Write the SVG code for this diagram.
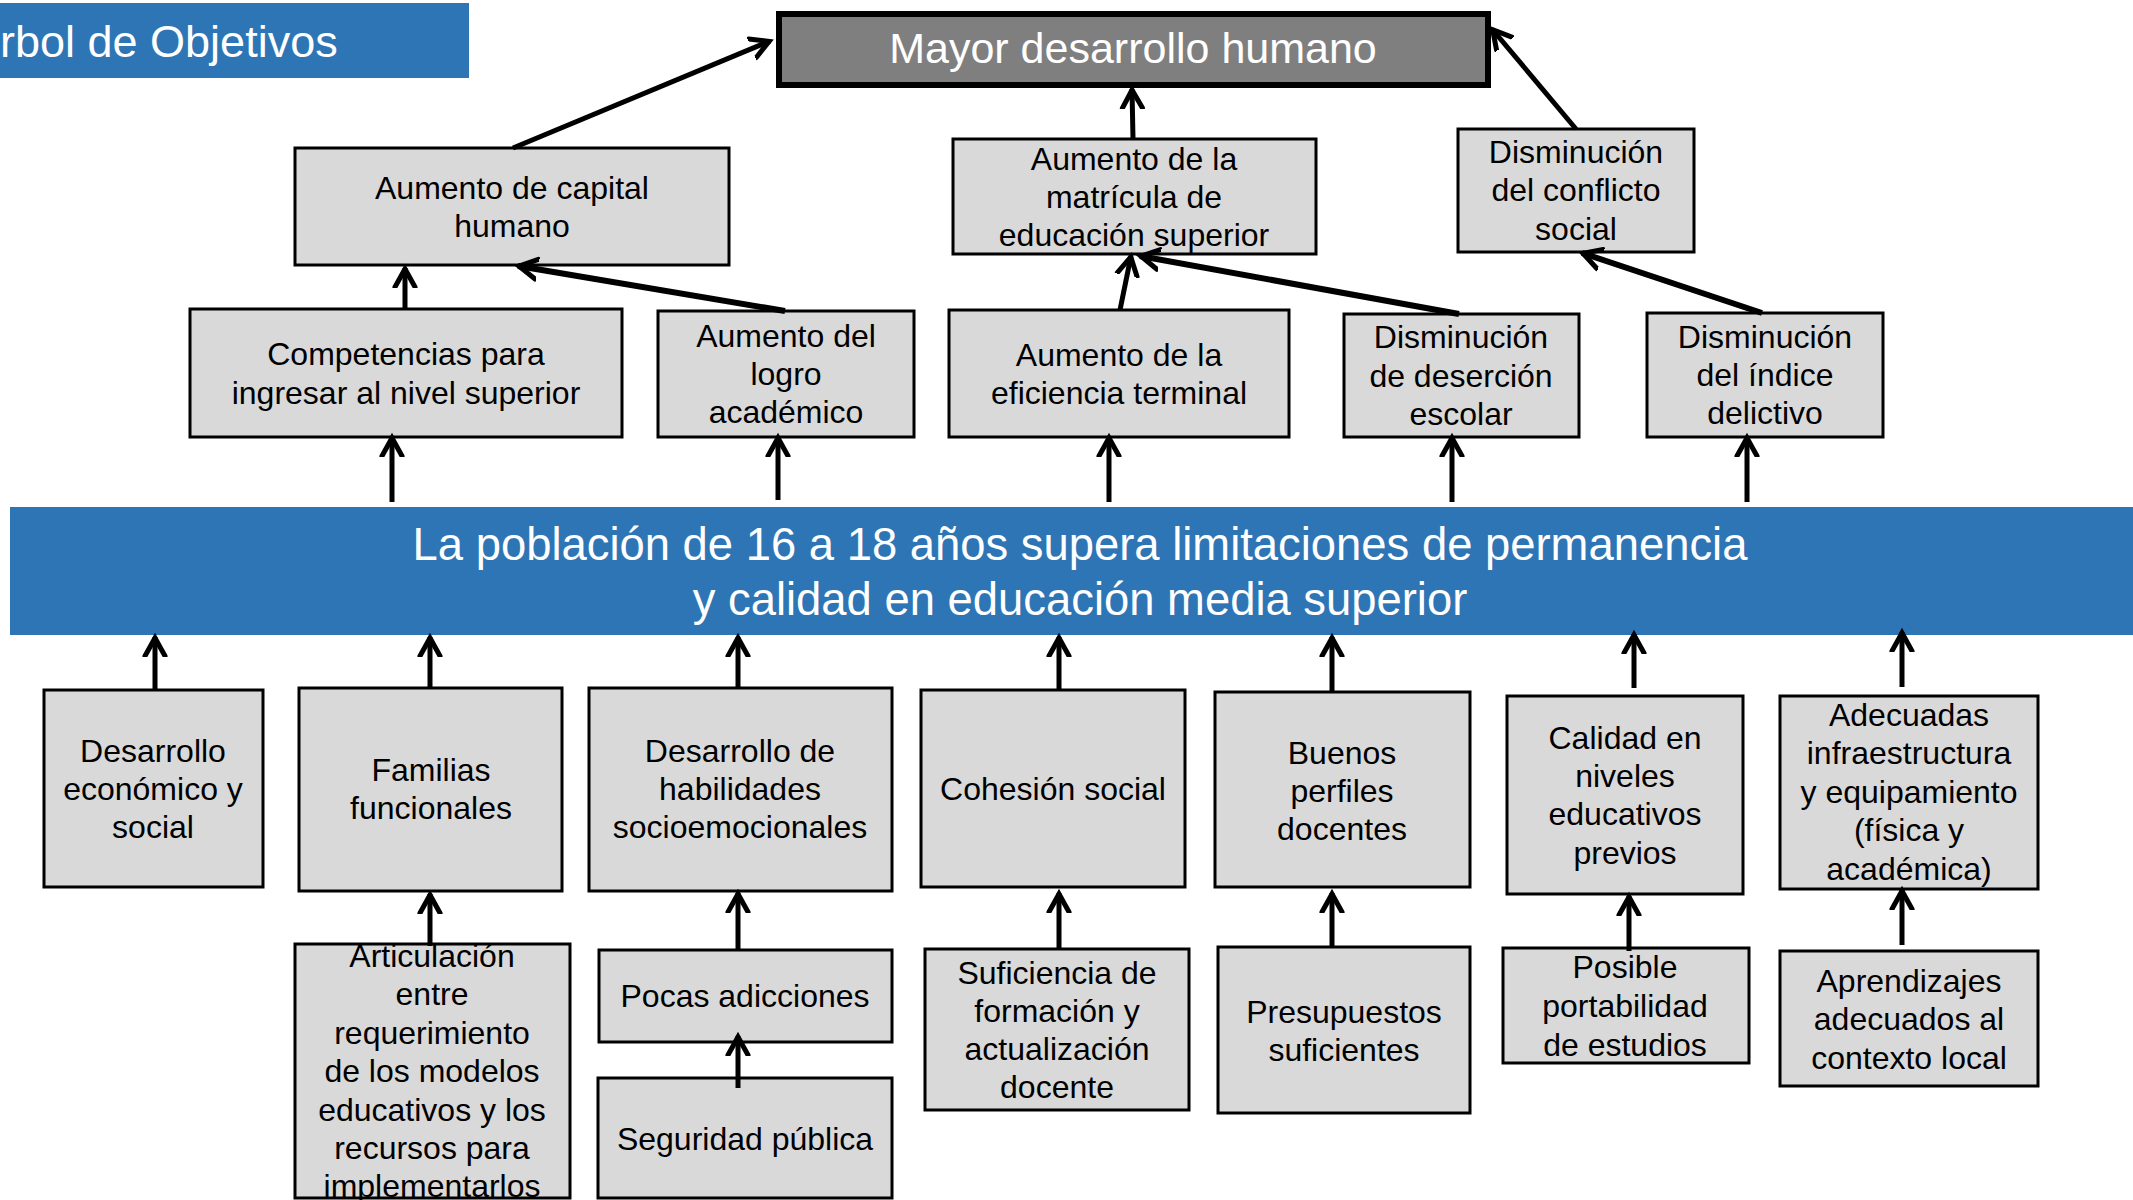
<svg xmlns="http://www.w3.org/2000/svg" width="2133" height="1200" viewBox="0 0 2133 1200">
<style>
.box{fill:#D9D9D9;stroke:#000;stroke-width:3}
.t{font-family:"Liberation Sans",Arial,sans-serif;font-size:32px;fill:#000;text-anchor:middle}
.w{font-family:"Liberation Sans",Arial,sans-serif;fill:#fff;text-anchor:middle}
.c{stroke:#000;stroke-width:5;fill:none;marker-end:url(#ah)}
.c2{stroke:#000;stroke-width:6;fill:none;marker-end:url(#ah)}
</style>
<defs>
<marker id="ah" markerUnits="userSpaceOnUse" markerWidth="40" markerHeight="40" viewBox="-20 -20 40 40" refX="0" refY="0" orient="auto">
<path d="M-19,-10 L-1,0 L-19,10" fill="none" stroke="#000" stroke-width="5" stroke-linecap="round" stroke-linejoin="miter"/>
</marker>
</defs>
<rect x="0" y="3" width="469" height="75" fill="#2E75B6"/>
<text x="0" y="57" font-family="Liberation Sans, Arial, sans-serif" font-size="45" fill="#fff">rbol de Objetivos</text>

<g id="top"><rect x="779" y="14" width="709" height="71" fill="#7F7F7F" stroke="#000" stroke-width="6"/><text class="w" x="1133" y="63" font-size="43">Mayor desarrollo humano</text></g>

<g id="capital"><rect class="box" x="295" y="148" width="434" height="117"/><text class="t" x="512"><tspan x="512" y="199">Aumento de capital</tspan><tspan x="512" y="237">humano</tspan></text></g>
<g id="matricula"><rect class="box" x="953" y="139" width="363" height="115"/><text class="t"><tspan x="1134" y="170">Aumento de la</tspan><tspan x="1134" y="208">matrícula de</tspan><tspan x="1134" y="246">educación superior</tspan></text></g>
<g id="conflicto"><rect class="box" x="1458" y="129" width="236" height="123"/><text class="t"><tspan x="1576" y="163">Disminución</tspan><tspan x="1576" y="201">del conflicto</tspan><tspan x="1576" y="240">social</tspan></text></g>

<g id="competencias"><rect class="box" x="190" y="309" width="432" height="128"/><text class="t"><tspan x="406" y="365">Competencias para</tspan><tspan x="406" y="404">ingresar al nivel superior</tspan></text></g>
<g id="logro"><rect class="box" x="658" y="311" width="256" height="126"/><text class="t"><tspan x="786" y="347">Aumento del</tspan><tspan x="786" y="385">logro</tspan><tspan x="786" y="423">académico</tspan></text></g>
<g id="eficiencia"><rect class="box" x="949" y="310" width="340" height="127"/><text class="t"><tspan x="1119" y="366">Aumento de la</tspan><tspan x="1119" y="404">eficiencia terminal</tspan></text></g>
<g id="desercion"><rect class="box" x="1344" y="314" width="235" height="123"/><text class="t"><tspan x="1461" y="348">Disminución</tspan><tspan x="1461" y="387">de deserción</tspan><tspan x="1461" y="425">escolar</tspan></text></g>
<g id="delictivo"><rect class="box" x="1647" y="313" width="236" height="124"/><text class="t"><tspan x="1765" y="348">Disminución</tspan><tspan x="1765" y="386">del índice</tspan><tspan x="1765" y="424">delictivo</tspan></text></g>

<g id="proposito"><rect x="10" y="507" width="2123" height="128" fill="#2E75B6"/><text class="w" font-size="45.4"><tspan x="1080" y="560">La población de 16 a 18 años supera limitaciones de permanencia</tspan><tspan x="1080" y="615">y calidad en educación media superior</tspan></text></g>

<g id="desarrollo"><rect class="box" x="44" y="690" width="219" height="197"/><text class="t"><tspan x="153" y="762">Desarrollo</tspan><tspan x="153" y="800">económico y</tspan><tspan x="153" y="838">social</tspan></text></g>
<g id="familias"><rect class="box" x="299" y="688" width="263" height="203"/><text class="t"><tspan x="431" y="781">Familias</tspan><tspan x="431" y="819">funcionales</tspan></text></g>
<g id="habilidades"><rect class="box" x="589" y="688" width="303" height="203"/><text class="t"><tspan x="740" y="762">Desarrollo de</tspan><tspan x="740" y="800">habilidades</tspan><tspan x="740" y="838">socioemocionales</tspan></text></g>
<g id="cohesion"><rect class="box" x="921" y="690" width="264" height="197"/><text class="t" x="1053" y="800">Cohesión social</text></g>
<g id="buenos"><rect class="box" x="1215" y="692" width="255" height="195"/><text class="t"><tspan x="1342" y="764">Buenos</tspan><tspan x="1342" y="802">perfiles</tspan><tspan x="1342" y="840">docentes</tspan></text></g>
<g id="calidad"><rect class="box" x="1507" y="696" width="236" height="198"/><text class="t"><tspan x="1625" y="749">Calidad en</tspan><tspan x="1625" y="787">niveles</tspan><tspan x="1625" y="825">educativos</tspan><tspan x="1625" y="864">previos</tspan></text></g>
<g id="adecuadas"><rect class="box" x="1780" y="696" width="258" height="193"/><text class="t"><tspan x="1909" y="726">Adecuadas</tspan><tspan x="1909" y="764">infraestructura</tspan><tspan x="1909" y="803">y equipamiento</tspan><tspan x="1909" y="841">(física y</tspan><tspan x="1909" y="880">académica)</tspan></text></g>

<g id="articulacion"><rect class="box" x="295" y="944" width="275" height="254"/><text class="t"><tspan x="432" y="967">Articulación</tspan><tspan x="432" y="1005">entre</tspan><tspan x="432" y="1044">requerimiento</tspan><tspan x="432" y="1082">de los modelos</tspan><tspan x="432" y="1121">educativos y los</tspan><tspan x="432" y="1159">recursos para</tspan><tspan x="432" y="1197">implementarlos</tspan></text></g>
<g id="pocas"><rect class="box" x="599" y="950" width="293" height="92"/><text class="t" x="745" y="1007">Pocas adicciones</text></g>
<g id="seguridad"><rect class="box" x="598" y="1078" width="294" height="120"/><text class="t" x="745" y="1150">Seguridad pública</text></g>
<g id="suficiencia"><rect class="box" x="925" y="949" width="264" height="161"/><text class="t"><tspan x="1057" y="984">Suficiencia de</tspan><tspan x="1057" y="1022">formación y</tspan><tspan x="1057" y="1060">actualización</tspan><tspan x="1057" y="1098">docente</tspan></text></g>
<g id="presupuestos"><rect class="box" x="1218" y="947" width="252" height="166"/><text class="t"><tspan x="1344" y="1023">Presupuestos</tspan><tspan x="1344" y="1061">suficientes</tspan></text></g>
<g id="posible"><rect class="box" x="1503" y="948" width="246" height="115"/><text class="t"><tspan x="1625" y="978">Posible</tspan><tspan x="1625" y="1017">portabilidad</tspan><tspan x="1625" y="1056">de estudios</tspan></text></g>
<g id="aprendizajes"><rect class="box" x="1780" y="951" width="258" height="135"/><text class="t"><tspan x="1909" y="992">Aprendizajes</tspan><tspan x="1909" y="1030">adecuados al</tspan><tspan x="1909" y="1069">contexto local</tspan></text></g>

<g id="connectors">
<line class="c" x1="513" y1="148" x2="770" y2="41"/>
<line class="c" x1="1133" y1="139" x2="1132" y2="89"/>
<line class="c" x1="1576" y1="129" x2="1492" y2="29"/>
<line class="c" x1="405" y1="309" x2="405" y2="268"/>
<line class="c2" x1="785" y1="311" x2="518" y2="266"/>
<line class="c" x1="1120" y1="310" x2="1131" y2="256"/>
<line class="c2" x1="1459" y1="314" x2="1140" y2="256"/>
<line class="c2" x1="1762" y1="313" x2="1582" y2="253"/>
<line class="c" x1="392" y1="502" x2="392" y2="437"/>
<line class="c" x1="778" y1="500" x2="778" y2="437"/>
<line class="c" x1="1109" y1="502" x2="1109" y2="437"/>
<line class="c" x1="1452" y1="502" x2="1452" y2="437"/>
<line class="c" x1="1747" y1="502" x2="1747" y2="437"/>
<line class="c" x1="155" y1="690" x2="155" y2="637"/>
<line class="c" x1="430" y1="688" x2="430" y2="637"/>
<line class="c" x1="738" y1="688" x2="738" y2="637"/>
<line class="c" x1="1059" y1="690" x2="1059" y2="637"/>
<line class="c" x1="1332" y1="692" x2="1332" y2="637"/>
<line class="c" x1="1634" y1="688" x2="1634" y2="634"/>
<line class="c" x1="1902" y1="687" x2="1902" y2="632"/>
<line class="c" x1="430" y1="946" x2="430" y2="894"/>
<line class="c" x1="738" y1="950" x2="738" y2="893"/>
<line class="c" x1="738" y1="1088" x2="738" y2="1036"/>
<line class="c" x1="1059" y1="949" x2="1059" y2="893"/>
<line class="c" x1="1332" y1="947" x2="1332" y2="893"/>
<line class="c" x1="1629" y1="951" x2="1629" y2="896"/>
<line class="c" x1="1902" y1="945" x2="1902" y2="890"/>
</g>
</svg>
